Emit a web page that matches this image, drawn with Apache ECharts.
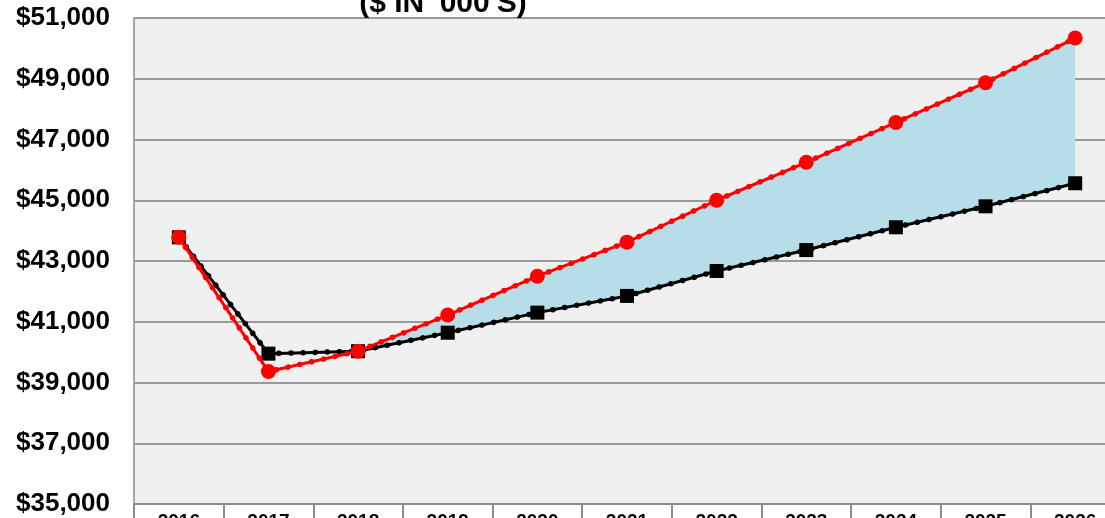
<!DOCTYPE html>
<html>
<head>
<meta charset="utf-8">
<script src="https://cdn.jsdelivr.net/npm/echarts@6/dist/echarts.min.js"></script>
<style>
html,body{margin:0;padding:0;background:#fff;}
#c{width:1105px;height:518px;}
</style>
</head>
<body>
<div id="c"></div>
<script>
const years = ['2016','2017','2018','2019','2020','2021','2022','2023','2024','2025','2026'];
const redValues = [43780, 39360, 40030, 41220, 42500, 43620, 45000, 46250, 47560, 48870, 50340];
const blackValues = [43780, 39950, 40030, 40640, 41300, 41850, 42670, 43360, 44110, 44800, 45560];
const fillStartIndex = 2;
const titleText = "($ IN '000'S)";

const fillBase = blackValues.map((v, i) => i >= fillStartIndex ? v : '-');
const fillDiff = redValues.map((v, i) => i >= fillStartIndex ? Math.max(0, v - blackValues[i]) : '-');

const chart = echarts.init(document.getElementById('c'), null, {renderer: 'canvas'});
const fontFam = 'Liberation Sans, Arial, sans-serif';
chart.setOption({
  animation: false,
  backgroundColor: '#ffffff',
  title: {
    text: titleText,
    left: 438, top: -16,
    textAlign: 'center',
    textStyle: {fontFamily: fontFam, fontWeight: 'bold', fontSize: 30, color: '#000'}
  },
  grid: {
    left: 134, top: 18, width: 986, height: 486,
    containLabel: false,
    outerBoundsMode: 'none',
    show: true, backgroundColor: '#f0f0f0', borderColor: '#8c8c8c', borderWidth: 1.5
  },
  xAxis: {
    type: 'category',
    data: years,
    boundaryGap: true,
    axisLine: {lineStyle: {color: '#8c8c8c', width: 2}},
    axisTick: {show: true, length: 20, lineStyle: {color: '#8c8c8c', width: 2}},
    axisLabel: {fontFamily: fontFam, fontWeight: 'bold', fontSize: 19, color: '#000', margin: 8}
  },
  yAxis: {
    type: 'value',
    min: 35000, max: 51000, interval: 2000,
    axisLine: {show: false},
    axisTick: {show: false},
    splitLine: {lineStyle: {color: '#999999', width: 2}},
    axisLabel: {
      fontFamily: fontFam, fontWeight: 'bold', fontSize: 26, color: '#000', margin: 24,
      formatter: v => '$' + v.toLocaleString('en-US')
    }
  },
  series: [
    {type: 'line', data: fillBase, stack: 'fill', symbol: 'none', lineStyle: {opacity: 0}, silent: true, z: 1},
    {type: 'line', data: fillDiff, stack: 'fill', symbol: 'none', lineStyle: {opacity: 0},
     areaStyle: {color: '#b7dde8', opacity: 1}, silent: true, z: 1},
    {type: 'line', data: blackValues, symbol: 'rect', symbolSize: 14,
     itemStyle: {color: '#000'}, lineStyle: {color: '#000', width: 3}, z: 3},
    {type: 'line', data: blackValues, symbol: 'none',
     lineStyle: {color: '#000', width: 5.5, type: [0.1, 12], cap: 'round'}, z: 3},
    {type: 'line', data: redValues, symbol: 'circle', symbolSize: 15,
     itemStyle: {color: '#ff0000'}, lineStyle: {color: '#ff0000', width: 3}, z: 4},
    {type: 'line', data: redValues, symbol: 'none',
     lineStyle: {color: '#ff0000', width: 5.5, type: [0.1, 12], cap: 'round'}, z: 4}
  ]
});
</script>
</body>
</html>
